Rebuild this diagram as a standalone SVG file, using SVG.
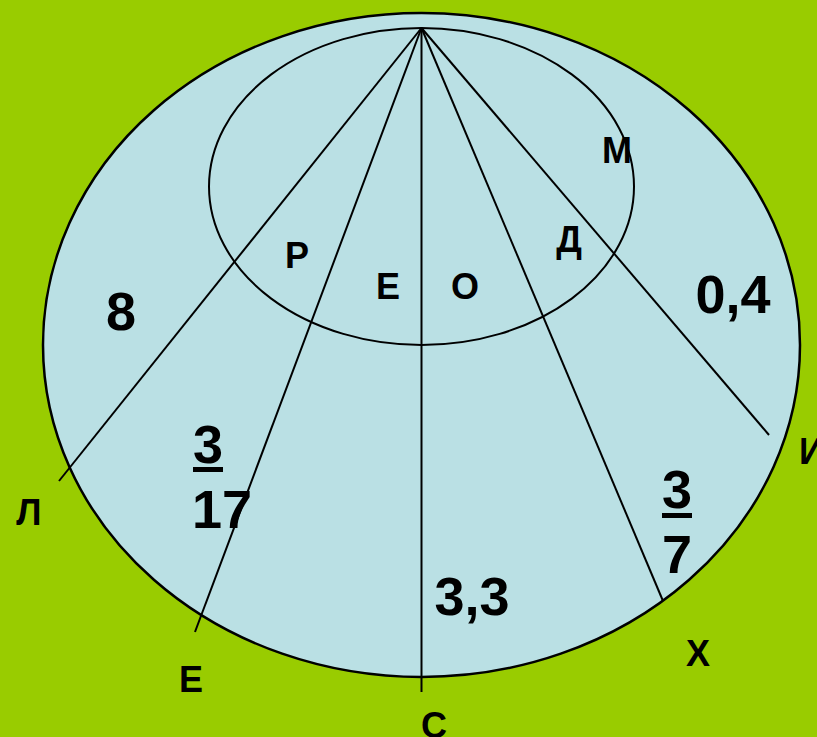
<svg xmlns="http://www.w3.org/2000/svg" width="817" height="737" viewBox="0 0 817 737">
<style>
.lbl{font-family:"Liberation Sans",Arial,sans-serif;font-weight:bold;font-size:36px;fill:#000;text-anchor:middle}
.num{font-family:"Liberation Sans",Arial,sans-serif;font-weight:bold;font-size:54px;fill:#000;text-anchor:middle}
.ln{stroke:#000;stroke-width:2;fill:none}
</style>
<rect x="0" y="0" width="817" height="737" fill="#99CC00"/>
<g id="outer"><ellipse cx="421.5" cy="345" rx="378.5" ry="332" fill="#BAE0E4" stroke="#000" stroke-width="2.5"/></g>
<g id="inner"><ellipse cx="421.5" cy="186.5" rx="212.5" ry="158.5" fill="none" stroke="#000" stroke-width="2"/></g>
<g id="connectors">
<line class="ln" x1="421.5" y1="28" x2="59" y2="481"/>
<line class="ln" x1="421.5" y1="28" x2="195" y2="632"/>
<line class="ln" x1="421.5" y1="28" x2="421.5" y2="692"/>
<line class="ln" x1="421.5" y1="28" x2="663" y2="601"/>
<line class="ln" x1="421.5" y1="28" x2="769" y2="435"/>
</g>
<g id="labels">
<text class="lbl" x="29" y="525">Л</text>
<text class="lbl" x="191" y="692">Е</text>
<text class="lbl" x="434" y="738">С</text>
<text class="lbl" x="698" y="666">Х</text>
<text class="lbl" x="799" y="464" style="text-anchor:start">И</text>
<text class="lbl" x="297" y="268">Р</text>
<text class="lbl" x="388" y="299">Е</text>
<text class="lbl" x="465" y="299">О</text>
<text class="lbl" x="617" y="163">М</text>
<text class="lbl" x="569" y="252">Д</text>
</g>
<g id="numbers">
<text class="num" x="121" y="330">8</text>
<text class="num" x="733" y="313">0,4</text>
<text class="num" x="472" y="615">3,3</text>
<text class="num" x="208" y="463">3</text>
<rect x="193" y="467" width="30" height="5" fill="#000"/>
<text class="num" x="222" y="528">17</text>
<text class="num" x="677" y="508">3</text>
<rect x="662" y="513" width="30" height="5" fill="#000"/>
<text class="num" x="677" y="573">7</text>
</g>
</svg>
